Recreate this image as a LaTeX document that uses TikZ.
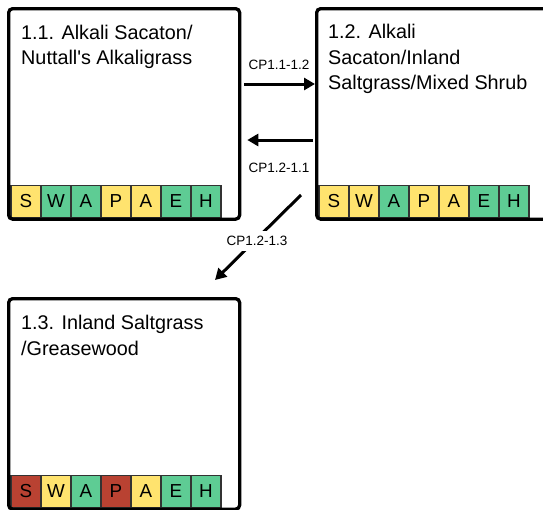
\documentclass[tikz,border=0pt]{standalone}
\usepackage{fontspec}
\setmainfont{Liberation Sans}
\usetikzlibrary{arrows.meta}
\definecolor{cyel}{RGB}{255,227,110}
\definecolor{cgrn}{RGB}{94,204,148}
\definecolor{cred}{RGB}{185,66,50}
\definecolor{cbrd}{RGB}{51,51,51}
\tikzset{
  statebox/.style={draw=black, line width=3.3pt, rounded corners=4pt, minimum width=231pt, minimum height=210.5pt, anchor=north west, inner sep=0pt},
  title/.style={anchor=north west, inner sep=0pt, align=left, font={\fontsize{19.8}{25.5}\selectfont}},
  cell/.style={draw=cbrd, line width=1.8pt, minimum width=30pt, minimum height=32pt, inner sep=0pt, anchor=north west, font={\fontsize{18.8}{20}\selectfont}},
  cp/.style={font={\fontsize{13.5}{15}\selectfont}, inner sep=1pt},
  conn/.style={line width=3pt, -{Triangle[length=11pt,width=12pt]}}
}
\begin{document}
\begin{tikzpicture}[x=1pt,y=-1pt]
\useasboundingbox (0,0) rectangle (543,509);
\clip (0,0) rectangle (543,509);
% cells
\foreach \L/\C [count=\i from 0] in {S/cyel,W/cgrn,A/cgrn,P/cyel,A/cyel,E/cgrn,H/cgrn}
  \node[cell, fill=\C] (ca\i) at ({10+30*\i},184.5) {\L};
\foreach \L/\C [count=\i from 0] in {S/cyel,W/cyel,A/cgrn,P/cyel,A/cyel,E/cgrn,H/cgrn}
  \node[cell, fill=\C] (cb\i) at ({318+30*\i},184.5) {\L};
\foreach \L/\C [count=\i from 0] in {S/cred,W/cyel,A/cgrn,P/cred,A/cyel,E/cgrn,H/cgrn}
  \node[cell, fill=\C] (cc\i) at ({10+30*\i},474.5) {\L};
% boxes
\node[statebox] (b11) at (7,7) {};
\node[statebox] (b12) at (315,7) {};
\node[statebox] (b13) at (7,297) {};
% titles
\node[title] (t11) at (21,24.8) {1.1. Alkali Sacaton/\\Nuttall\textquotesingle s Alkaligrass};
\node[title] (t12) at (328,24) {1.2. Alkali\\Sacaton/Inland\\Saltgrass/Mixed Shrub};
\node[title] (t13) at (21,315) {1.3. Inland Saltgrass\\/Greasewood};
% connectors
\coordinate (p1s) at (244,84);
\coordinate (p2s) at (313,140);
\coordinate (p3s) at (301,195);
\coordinate (p3e) at (215,280);
\draw[conn] (p1s) -- (b12.west |- p1s);
\draw[conn] (p2s) -- ([xshift=6pt]b11.east |- p2s);
\draw[conn] (p3s) -- (p3e);
\node[cp] (l1) at (279,65) {CP1.1-1.2};
\node[cp] (l2) at (279,168) {CP1.2-1.1};
\node[cp, fill=white, inner ysep=5pt] (l3) at (257,241) {CP1.2-1.3};
\end{tikzpicture}
\end{document}
